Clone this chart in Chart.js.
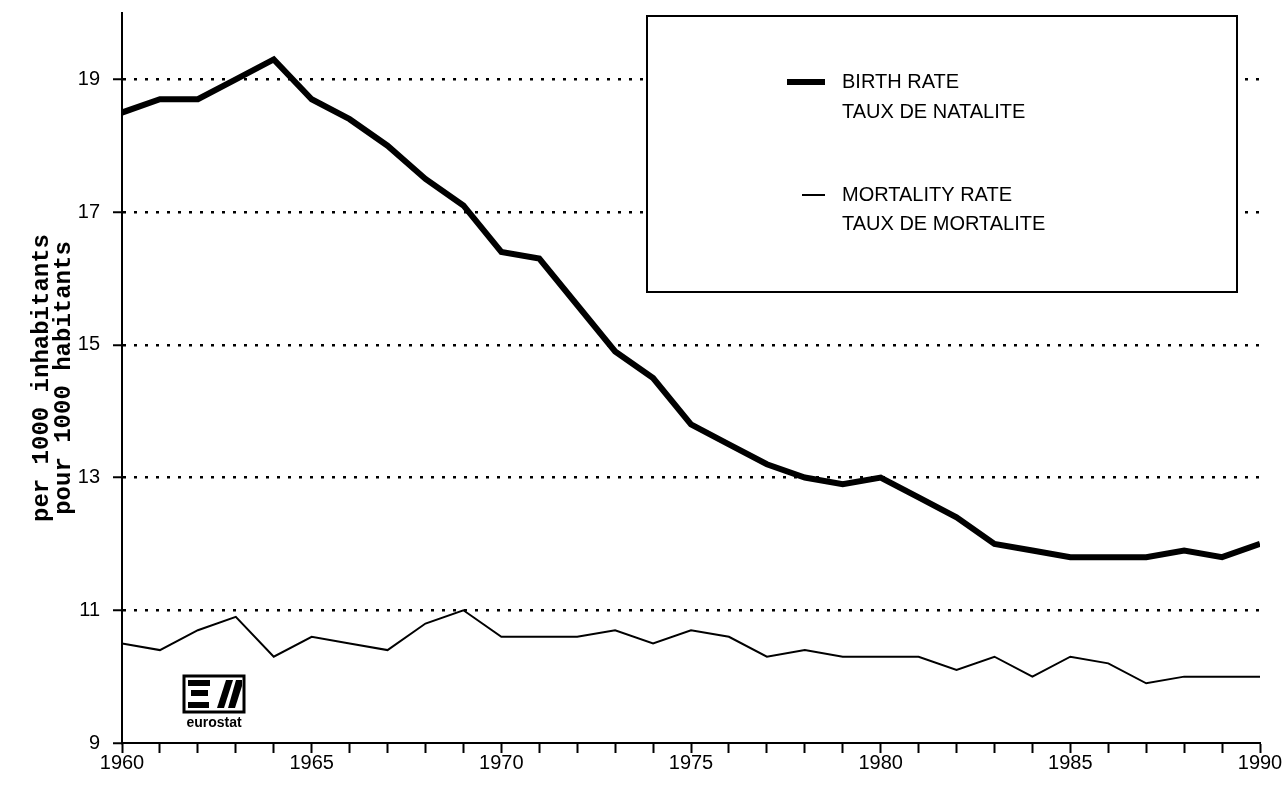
<!DOCTYPE html>
<html>
<head>
<meta charset="utf-8">
<script src="https://cdn.jsdelivr.net/npm/chart.js@4.4.0/dist/chart.umd.min.js"></script>
<style>
  html, body { margin: 0; padding: 0; background: #fff; }
  #chart { display: block; }
</style>
</head>
<body>
<canvas id="chart" width="1287" height="789"></canvas>
<script>
// data
const years = [1960, 1961, 1962, 1963, 1964, 1965, 1966, 1967, 1968, 1969,
               1970, 1971, 1972, 1973, 1974, 1975, 1976, 1977, 1978, 1979,
               1980, 1981, 1982, 1983, 1984, 1985, 1986, 1987, 1988, 1989, 1990];
const birthRate = [18.5, 18.7, 18.7, 19.0, 19.3, 18.7, 18.4, 18.0, 17.5, 17.1,
                   16.4, 16.3, 15.6, 14.9, 14.5, 13.8, 13.5, 13.2, 13.0, 12.9,
                   13.0, 12.7, 12.4, 12.0, 11.9, 11.8, 11.8, 11.8, 11.9, 11.8, 12.0];
const mortalityRate = [10.5, 10.4, 10.7, 10.9, 10.3, 10.6, 10.5, 10.4, 10.8, 11.0,
                       10.6, 10.6, 10.6, 10.7, 10.5, 10.7, 10.6, 10.3, 10.4, 10.3,
                       10.3, 10.3, 10.1, 10.3, 10.0, 10.3, 10.2, 9.9, 10.0, 10.0, 10.0];
const yTickValues = [9, 11, 13, 15, 17, 19];
const xLabelYears = [1960, 1965, 1970, 1975, 1980, 1985, 1990];
const birthLabel = ['BIRTH RATE', 'TAUX DE NATALITE'];
const mortalityLabel = ['MORTALITY RATE', 'TAUX DE MORTALITE'];
const yTitle = ['per 1000 inhabitants', 'pour 1000 habitants'];

const toPoints = (vals) => vals.map((v, i) => ({ x: years[i], y: v }));

// boxed legend inside the plot, drawn over the grid but under the lines
const boxLegend = {
    id: 'boxLegend',
    beforeDatasetsDraw(chart) {
        const ctx = chart.ctx;
        ctx.save();
        ctx.fillStyle = '#fff';
        ctx.fillRect(647, 16, 590, 276);
        ctx.strokeStyle = '#000';
        ctx.lineWidth = 2;
        ctx.strokeRect(647, 16, 590, 276);

        const rows = [
            { x1: 787, x2: 825, y: 82, gap: 30 },
            { x1: 802, x2: 825, y: 195, gap: 29 }
        ];
        ctx.font = '20px "Liberation Sans", Arial, sans-serif';
        ctx.textBaseline = 'middle';
        ctx.textAlign = 'left';
        chart.data.datasets.forEach((ds, i) => {
            const r = rows[i];
            ctx.strokeStyle = ds.borderColor;
            ctx.lineWidth = ds.borderWidth;
            ctx.beginPath();
            ctx.moveTo(r.x1, r.y);
            ctx.lineTo(r.x2, r.y);
            ctx.stroke();
            ctx.fillStyle = '#000';
            ds.label.forEach((line, j) => ctx.fillText(line, 842, r.y + j * r.gap));
        });
        ctx.restore();
    }
};

// eurostat logo, bottom left of the plot
const logo = {
    id: 'logo',
    afterDatasetsDraw(chart) {
        const ctx = chart.ctx;
        ctx.save();
        ctx.strokeStyle = '#000';
        ctx.lineWidth = 3;
        ctx.strokeRect(184, 676, 60, 36);
        ctx.fillStyle = '#000';
        // E
        ctx.fillRect(188, 680, 22, 6);
        ctx.fillRect(191, 690, 17, 6);
        ctx.fillRect(188, 702, 21, 6);
        // slash
        ctx.beginPath();
        ctx.moveTo(217, 708); ctx.lineTo(224, 708); ctx.lineTo(233, 680); ctx.lineTo(226, 680);
        ctx.closePath(); ctx.fill();
        // S stroke
        ctx.beginPath();
        ctx.moveTo(228, 708); ctx.lineTo(235, 708); ctx.lineTo(242, 686); ctx.lineTo(242, 680); ctx.lineTo(236, 680);
        ctx.closePath(); ctx.fill();
        ctx.font = 'bold 14px "Liberation Sans", Arial, sans-serif';
        ctx.textAlign = 'center';
        ctx.textBaseline = 'middle';
        ctx.fillText('eurostat', 214, 723);
        ctx.restore();
    }
};

new Chart(document.getElementById('chart'), {
    type: 'line',
    data: {
        datasets: [
            {
                label: birthLabel,
                data: toPoints(birthRate),
                borderColor: '#000',
                borderWidth: 6,
                pointRadius: 0,
                tension: 0,
                borderJoinStyle: 'miter'
            },
            {
                label: mortalityLabel,
                data: toPoints(mortalityRate),
                borderColor: '#000',
                borderWidth: 2,
                pointRadius: 0,
                tension: 0
            }
        ]
    },
    options: {
        responsive: false,
        animation: false,
        events: [],
        layout: { padding: { top: 13, right: 27, left: 0, bottom: 0 } },
        plugins: {
            legend: { display: false },
            tooltip: { enabled: false }
        },
        scales: {
            x: {
                type: 'linear',
                min: 1960,
                max: 1990,
                afterBuildTicks: (s) => { s.ticks = years.map(v => ({ value: v })); },
                afterFit: (s) => { s.height = 46; },
                grid: {
                    drawOnChartArea: false,
                    drawTicks: true,
                    tickLength: 10,
                    tickColor: '#000',
                    tickWidth: 2
                },
                border: { color: '#000', width: 2 },
                ticks: {
                    autoSkip: false,
                    maxRotation: 0,
                    padding: -2,
                    color: '#000',
                    font: { family: '"Liberation Sans", Arial, sans-serif', size: 20 },
                    callback: (v) => xLabelYears.includes(v) ? String(v) : ''
                }
            },
            y: {
                min: 9,
                max: 20,
                afterBuildTicks: (s) => { s.ticks = yTickValues.map(v => ({ value: v })); },
                afterFit: (s) => { s.width = 122; s.paddingTop = 0; s.paddingBottom = 0; },
                grid: {
                    color: (c) => (c.tick && c.tick.value === 9) ? 'rgba(0,0,0,0)' : '#000',
                    lineWidth: 2.5,
                    tickLength: 9,
                    tickColor: '#000',
                    tickWidth: 2,
                    tickBorderDash: []
                },
                border: { color: '#000', width: 2, dash: [3, 8] },
                ticks: {
                    padding: 13,
                    color: '#000',
                    font: { family: '"Liberation Sans", Arial, sans-serif', size: 20 }
                },
                title: {
                    display: true,
                    text: yTitle,
                    color: '#000',
                    padding: { top: 31, bottom: 0 },
                    font: { family: '"Liberation Mono", monospace', size: 24, weight: 'bold', lineHeight: 0.92 }
                }
            }
        }
    },
    plugins: [boxLegend, logo]
});
</script>
</body>
</html>
